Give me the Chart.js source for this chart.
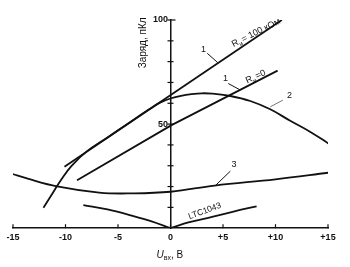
<!DOCTYPE html>
<html>
<head>
  <meta charset="utf-8">
  <title>Заряд</title>
  <script src="https://cdn.jsdelivr.net/npm/chart.js@4.4.0/dist/chart.umd.min.js"></script>
  <style>body{margin:0;background:#fff}</style>
</head>
<body>
  <canvas id="myChart" width="350" height="267"></canvas>
  <script>
    // axis ticks
    var xTicks = [-15, -10, -5, 0, 5, 10, 15];
    var yLabels = [50, 100];

    // 1: Rи = 100 кОм
    var line1aX = [-10.1, 10.6];
    var line1aY = [29.5, 100];
    // 1: Rи = 0
    var line1bX = [-8.9, 0.1, 10.2];
    var line1bY = [23, 49.5, 75.7];
    // 2
    var curve2X = [-12.1, -11.2, -10.35, -9.4, -8, -6, -4, -2, -1, 0, 1, 2, 3, 4, 5.7, 7.6, 9.5, 11.4, 13.4, 15.1];
    var curve2Y = [9.8, 17, 23.8, 30.1, 36.8, 43.6, 50.4, 57.2, 60.3, 62.3, 63.6, 64.4, 64.8, 64.6, 63.5, 61.1, 57.1, 51.6, 46, 40.5];
    // 3
    var curve3X = [-15.2, -13.6, -10.8, -6.8, -3.8, 0, 4.2, 10, 15.1];
    var curve3Y = [26.3, 23.8, 20.1, 17.1, 16.7, 17.5, 20.5, 23.5, 26.7];
    // LTC1043 (two arms meeting at 0)
    var ltcLeftX = [-8.3, -6, -3.8, -1.8, 0];
    var ltcLeftY = [11.1, 9, 6.2, 3.3, 0];
    var ltcRightX = [0, 1.8, 3.5, 6, 8.2];
    var ltcRightY = [0, 2.9, 4.8, 8, 10.5];

    var font = '"Liberation Sans", Arial, sans-serif';
    var ink = '#111';

    function pts(xs, ys) {
      return xs.map(function(x, i) { return {x: x, y: ys[i]}; });
    }
    function series(xs, ys, tension) {
      return {
        data: pts(xs, ys),
        showLine: true,
        borderColor: ink,
        borderWidth: 1.8,
        pointRadius: 0,
        tension: tension,
        fill: false
      };
    }

    // tick marks, labels on the curves, axis titles
    var extras = {
      id: 'extras',
      afterDraw: function(chart) {
        var c = chart.ctx, xs = chart.scales.x, ys = chart.scales.y;
        var x0 = xs.getPixelForValue(0), y0 = ys.getPixelForValue(0);
        c.save();
        c.strokeStyle = ink;
        c.lineWidth = 1.2;
        // y ticks cross the axis
        for (var v = 10; v <= 100; v += 10) {
          var py = ys.getPixelForValue(v);
          c.beginPath(); c.moveTo(x0 - 3, py); c.lineTo(x0 + (v === 100 ? 5 : 3), py); c.stroke();
        }
        // x ticks point up
        xTicks.forEach(function(t) {
          var px = xs.getPixelForValue(t);
          c.beginPath(); c.moveTo(px, y0); c.lineTo(px, y0 - 4); c.stroke();
        });

        function P(x, y) { return [xs.getPixelForValue(x), ys.getPixelForValue(y)]; }
        function leader(a, b, color) {
          var p = P(a[0], a[1]), q = P(b[0], b[1]);
          c.strokeStyle = color || ink;
          c.lineWidth = 1;
          c.beginPath(); c.moveTo(p[0], p[1]); c.lineTo(q[0], q[1]); c.stroke();
        }
        function label(x, y, text, size, angle, sub) {
          var p = P(x, y);
          c.save();
          c.translate(p[0], p[1]);
          c.rotate(angle * Math.PI / 180);
          c.fillStyle = ink;
          c.textBaseline = 'alphabetic';
          c.textAlign = 'left';
          c.font = size + 'px ' + font;
          var pos = 0;
          if (sub) {
            c.fillText(text[0], 0, 0);
            pos = c.measureText(text[0]).width;
            c.font = (size - 3) + 'px ' + font;
            c.fillText(sub, pos, 2.5);
            pos += c.measureText(sub).width + 1;
            c.font = size + 'px ' + font;
            c.fillText(text[1], pos, 0);
          } else {
            c.fillText(text, 0, 0);
          }
          c.restore();
        }

        label(2.9, 84.5, '1', 9, 0);
        leader([3.5, 84], [4.5, 79.5]);
        label(6, 87, ['R', '= 100 кОм'], 9, -27, 'и');

        label(5.0, 70.5, '1', 9, 0);
        leader([5.5, 69.5], [6.6, 66.5]);
        label(7.3, 69.5, ['R', '=0'], 9, -25, 'и');

        label(11.1, 62.5, '2', 9, 0);
        leader([10.7, 61.5], [9.5, 58.3], '#777');

        label(5.8, 29.5, '3', 9, 0);
        leader([5.7, 27.4], [4.3, 20.6]);

        label(1.8, 4.3, 'LTC1043', 8.5, -20);

        // y title
        c.save();
        c.translate(x0 - 27, ys.getPixelForValue(89));
        c.rotate(-Math.PI / 2);
        c.fillStyle = ink;
        c.textAlign = 'center';
        c.textBaseline = 'middle';
        c.font = '10px ' + font;
        c.fillText('Заряд, пКл', 0, 0);
        c.restore();

        // x title
        var tx = x0 - 14, ty = y0 + 30;
        c.fillStyle = ink;
        c.textAlign = 'left';
        c.textBaseline = 'alphabetic';
        c.font = 'italic 10px ' + font;
        c.fillText('U', tx, ty);
        tx += c.measureText('U').width;
        c.font = '7px ' + font;
        c.fillText('вх', tx, ty + 2);
        tx += c.measureText('вх').width;
        c.font = '10px ' + font;
        c.fillText(', В', tx, ty);
        c.restore();
      }
    };

    var ctx = document.getElementById('myChart').getContext('2d');
    var chart = new Chart(ctx, {
      type: 'scatter',
      data: {
        datasets: [
          series(line1aX, line1aY, 0),
          series(line1bX, line1bY, 0),
          series(curve2X, curve2Y, 0.4),
          series(curve3X, curve3Y, 0.4),
          series(ltcLeftX, ltcLeftY, 0.4),
          series(ltcRightX, ltcRightY, 0.4)
        ]
      },
      options: {
        responsive: false,
        animation: false,
        layout: {padding: {left: 13, right: 22, top: 20, bottom: 20}},
        plugins: {legend: {display: false}, tooltip: {enabled: false}},
        scales: {
          x: {
            type: 'linear', min: -15, max: 15, position: 'bottom',
            grid: {display: false, drawTicks: false},
            border: {color: ink, width: 1.5},
            afterBuildTicks: function(s) { s.ticks = xTicks.map(function(v) { return {value: v}; }); },
            ticks: {
              padding: 4, color: ink, font: {size: 9, family: font, weight: 'bold'},
              callback: function(v) { return v > 0 ? '+' + v : String(v); }
            }
          },
          y: {
            type: 'linear', min: 0, max: 100, position: {x: 0},
            grid: {display: false, drawTicks: false},
            border: {color: ink, width: 1.5},
            ticks: {
              stepSize: 10, color: ink, font: {size: 9, family: font, weight: 'bold'},
              // a centred y axis puts labels flush on the line, the trailing space keeps a gap
              callback: function(v) { return yLabels.indexOf(v) >= 0 ? v + ' ' : ''; }
            }
          }
        }
      },
      plugins: [extras]
    });
  </script>
</body>
</html>
